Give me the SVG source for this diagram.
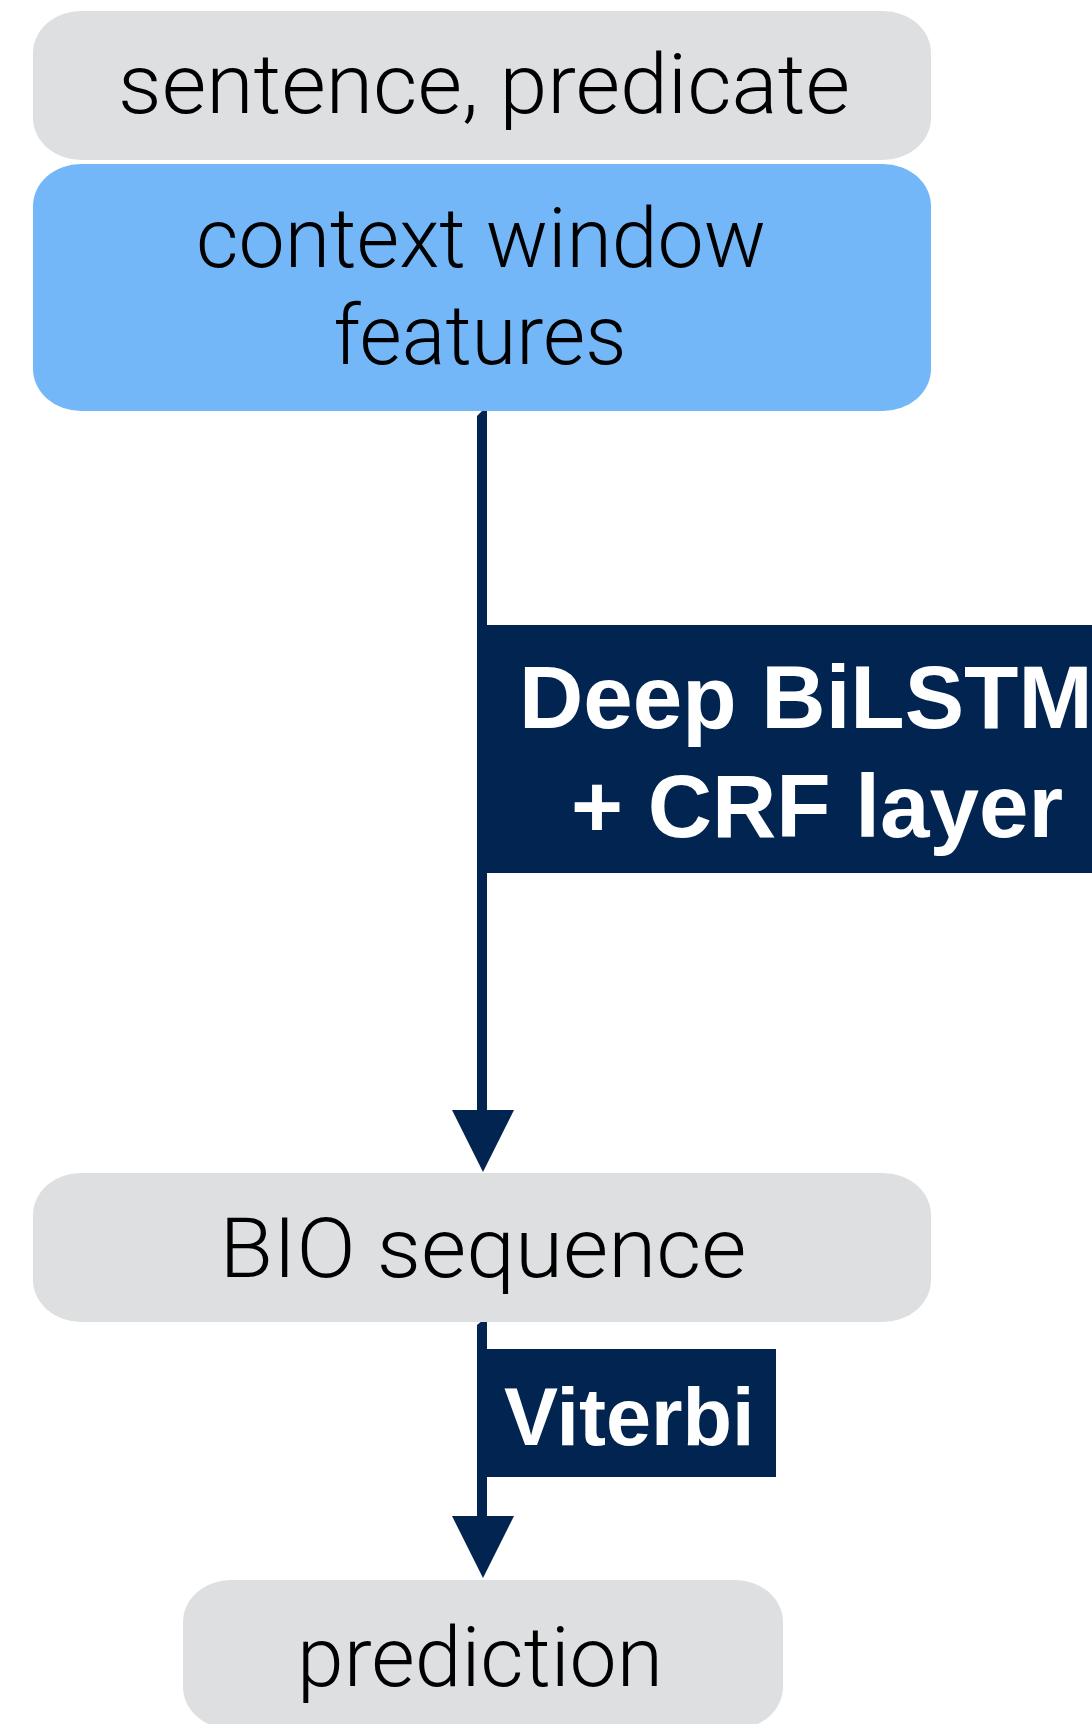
<svg xmlns="http://www.w3.org/2000/svg" width="1092" height="1724" viewBox="0 0 1092 1724">
<style>
.gray{fill:#DEDFE1}
.blue{fill:#74B7F8}
.navy{fill:#012451}
.t{font-family:Roboto,"Liberation Sans",Arial,sans-serif;font-weight:300;fill:#000;text-anchor:middle}
.lbl{font-family:"Liberation Sans",Arial,sans-serif;font-weight:bold;fill:#fff}
</style>
<rect width="1092" height="1724" fill="#fff"/>
<g id="connectors">
<g id="edge1">
<polygon class="navy" points="477,416 487,406 487,1112 477,1112"/>
<polygon class="navy" points="452,1110 514,1110 483,1172"/>
<rect class="navy" x="484" y="625" width="620" height="248"/>
<text class="lbl" x="519" y="728" font-size="89">Deep BiLSTM</text>
<text class="lbl" x="571" y="837" font-size="89">+ CRF layer</text>
</g>
<g id="edge2">
<polygon class="navy" points="477,1325 487,1317 487,1518 477,1518"/>
<polygon class="navy" points="452,1516 514,1516 483,1578"/>
<rect class="navy" x="484" y="1349" width="292" height="128"/>
<text class="lbl" x="504" y="1445" font-size="81">Viterbi</text>
</g>
</g>
<g id="node-input">
<rect class="gray" x="33" y="11" width="898" height="149" rx="48" ry="42"/>
<text class="t" x="484" y="113" font-size="84" textLength="732" lengthAdjust="spacingAndGlyphs">sentence, predicate</text>
</g>
<g id="node-features">
<rect class="blue" x="33" y="164" width="898" height="247" rx="48" ry="42"/>
<text class="t" x="481" y="267" font-size="84" textLength="570" lengthAdjust="spacingAndGlyphs">context window</text>
<text class="t" x="480" y="364" font-size="84" textLength="293" lengthAdjust="spacingAndGlyphs">features</text>
</g>
<g id="node-bio">
<rect class="gray" x="33" y="1173" width="898" height="149" rx="48" ry="42"/>
<text class="t" x="483" y="1277" font-size="84" textLength="527" lengthAdjust="spacingAndGlyphs">BIO sequence</text>
</g>
<g id="node-prediction">
<rect class="gray" x="183" y="1580" width="600" height="149" rx="48" ry="42"/>
<text class="t" x="480" y="1686" font-size="84" textLength="366" lengthAdjust="spacingAndGlyphs">prediction</text>
</g>
</svg>
